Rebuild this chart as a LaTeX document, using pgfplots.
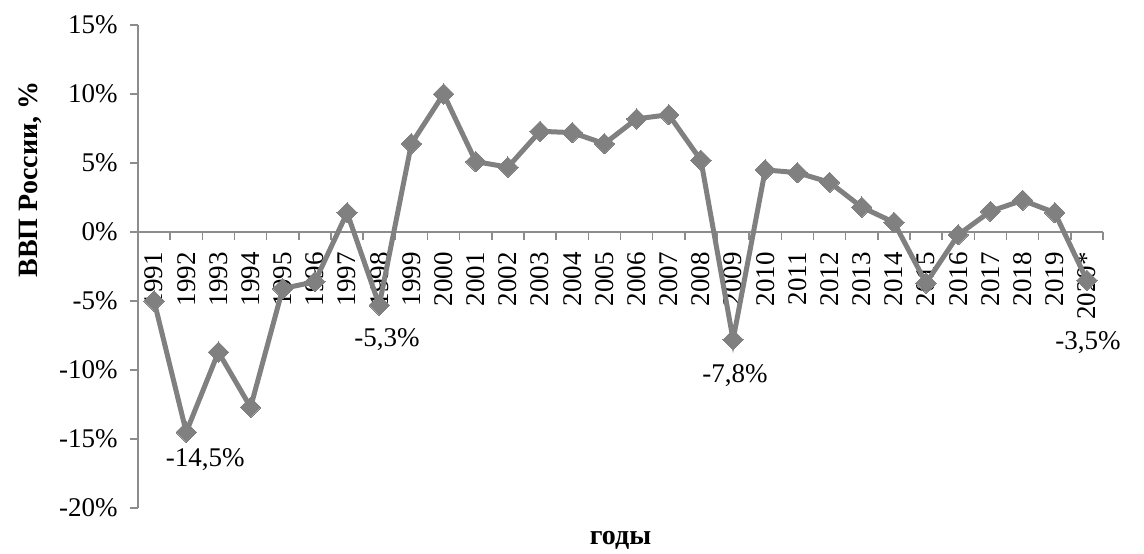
\documentclass[border=0pt]{standalone}
\usepackage{pgfplots}
\pgfplotsset{compat=1.18}
\usepackage{fontspec}
\setmainfont{Liberation Serif}
\definecolor{linegray}{RGB}{128,128,128}
\definecolor{axisgray}{RGB}{140,140,140}

\begin{document}
\begin{tikzpicture}
\begin{axis}[
    name=ax,
    scale only axis,
    width=482.5pt, height=241.5pt,
    xmin=-0.5, xmax=29.5,
    ymin=-20, ymax=15,
    axis x line*=middle,
    axis y line*=left,
    axis line style={axisgray, line width=0.8pt},
    tick style={axisgray, line width=0.8pt},
    tick align=outside,
    major tick length=4pt,
    xtick={0,...,29},
    xticklabels={1991,1992,1993,1994,1995,1996,1997,1998,1999,2000,2001,2002,2003,2004,2005,2006,2007,2008,2009,2010,2011,2012,2013,2014,2015,2016,2017,2018,2019,2020*},
    major x tick style={draw=none},
    minor xtick={-0.5,0.5,...,29.5},
    minor tick length=4pt,
    minor x tick style={axisgray, line width=0.8pt},
    xticklabel style={rotate=90, anchor=east, inner sep=0pt, xshift=-6pt},
    ytick={-20,-15,...,15},
    yticklabel={\pgfmathprintnumber{\tick}\%},
    yticklabel style={inner sep=0pt, xshift=-6pt},
    /pgf/number format/assume math mode=true,
    ticklabel style={font=\fontsize{13.5}{16}\selectfont},
    ylabel={\textbf{ВВП России, \%}},
    ylabel style={at={(axis description cs:-0.112,0.68)}, anchor=center, font=\fontsize{14}{16}\selectfont},
    xlabel={\textbf{годы}},
    xlabel style={at={(axis description cs:0.5,-0.066)}, anchor=center, font=\fontsize{14}{16}\selectfont},
    clip=false,
]
\addplot[linegray, line width=2.5pt, mark=square*, mark size=3.6pt,
         mark options={rotate=45, fill=linegray, draw=linegray, line width=0pt}]
  table[x=i, y=v]{
  i  v
  0  -5.0
  1  -14.5
  2  -8.7
  3  -12.7
  4  -4.1
  5  -3.6
  6  1.4
  7  -5.3
  8  6.4
  9  10.0
  10 5.1
  11 4.7
  12 7.3
  13 7.2
  14 6.4
  15 8.2
  16 8.5
  17 5.2
  18 -7.8
  19 4.5
  20 4.3
  21 3.6
  22 1.8
  23 0.7
  24 -3.7
  25 -0.2
  26 1.5
  27 2.3
  28 1.4
  29 -3.5
  };
\node[font=\fontsize{13.5}{16}\selectfont] at (axis cs:1.59,-16.5) {-14,5\%};
\node[font=\fontsize{13.5}{16}\selectfont] at (axis cs:7.24,-7.8) {-5,3\%};
\node[font=\fontsize{13.5}{16}\selectfont] at (axis cs:18.06,-10.4) {-7,8\%};
\node[font=\fontsize{13.5}{16}\selectfont] at (axis cs:29.03,-8.0) {-3,5\%};
\end{axis}
\pgfresetboundingbox
\path[use as bounding box] (-69pt,-22.5pt) rectangle (503pt,254pt);
\end{tikzpicture}
\end{document}
